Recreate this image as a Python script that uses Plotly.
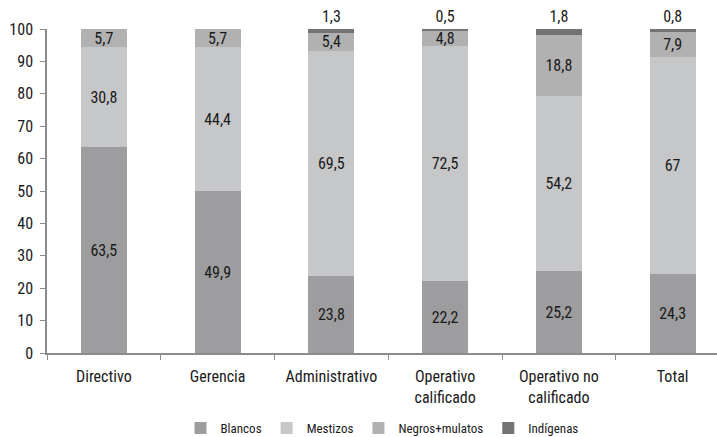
import plotly.graph_objects as go

categories = ["Directivo", "Gerencia", "Administrativo", "Operativo<br>calificado",
              "Operativo no<br>calificado", "Total"]
blancos = [63.5, 49.9, 23.8, 22.2, 25.2, 24.3]
mestizos = [30.8, 44.4, 69.5, 72.5, 54.2, 67]
negros = [5.7, 5.7, 5.4, 4.8, 18.8, 7.9]
indigenas = [0, 0, 1.3, 0.5, 1.8, 0.8]
y_ticks = [0, 10, 20, 30, 40, 50, 60, 70, 80, 90, 100]

FONT = "Liberation Sans Narrow, Arial Narrow, Roboto Condensed, DejaVu Sans Condensed, sans-serif"


def fmt(v):
    return "" if v == 0 else f"{v:g}".replace(".", ",")


series = [
    ("Blancos", blancos, "#9d9d9f", "inside"),
    ("Mestizos", mestizos, "#c6c7c9", "inside"),
    ("Negros+mulatos", negros, "#b1b1b1", "inside"),
    ("Indígenas", indigenas, "#737373", "outside"),
]

fig = go.Figure()
for name, vals, color, pos in series:
    fig.add_trace(go.Bar(
        name=name, x=categories, y=vals, marker=dict(color=color, line=dict(width=0)),
        text=[fmt(v) for v in vals], textposition=pos, insidetextanchor="middle",
        textangle=0, constraintext="none", cliponaxis=False,
        textfont=dict(family=FONT, size=16, color="#1a1a1a"),
        width=0.405,
    ))

fig.update_layout(
    barmode="stack",
    width=717, height=437,
    margin=dict(l=47, r=0, t=29, b=84, autoexpand=False),
    plot_bgcolor="white", paper_bgcolor="white",
    font=dict(family=FONT, size=15, color="#1a1a1a"),
    uniformtext=dict(mode=False),
    showlegend=True,
    legend=dict(orientation="h", x=0.5, xanchor="center", y=-0.232, yanchor="middle",
                font=dict(family=FONT, size=13), traceorder="normal",
                itemwidth=30, tracegroupgap=0),
    xaxis=dict(range=[-0.5, 5.39], showline=True, linecolor="#8c8c8c", linewidth=1.5,
               ticks="outside", tickson="boundaries", ticklen=5, tickcolor="#8c8c8c",
               tickfont=dict(family=FONT, size=16), showgrid=False,
               ticklabelstandoff=8),
    yaxis=dict(range=[0, 100], tickvals=y_ticks, showline=True, linecolor="#8c8c8c",
               linewidth=1.5, ticks="outside", ticklen=5, tickcolor="#8c8c8c",
               tickfont=dict(family=FONT, size=16), showgrid=False, zeroline=False,
               ticklabelstandoff=4),
)

fig.write_html("out.html")
